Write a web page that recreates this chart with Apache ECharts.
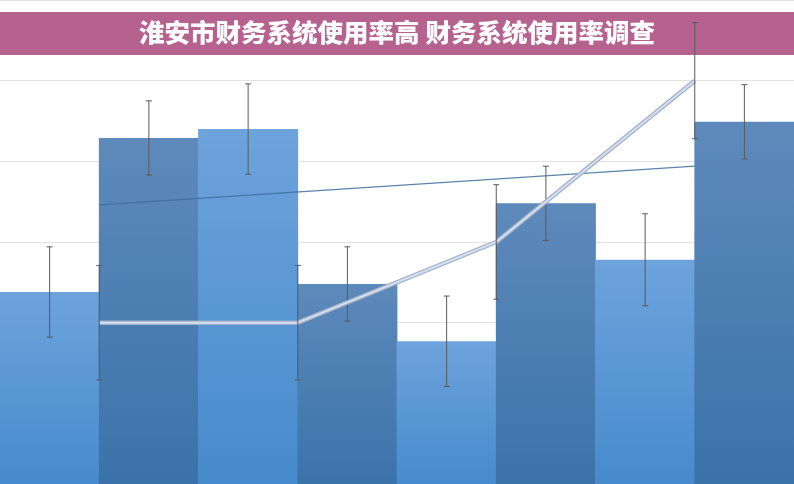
<!DOCTYPE html>
<html><head><meta charset="utf-8">
<script src="https://cdn.jsdelivr.net/npm/echarts@6/dist/echarts.min.js"></script>
<style>html,body{margin:0;padding:0;background:#fff}#c{width:794px;height:484px}</style>
</head><body><div id="c"></div>
<script>
const titleText = '淮安市财务系统使用率高 财务系统使用率调查';
const categories = ['类别1','类别2','类别3','类别4','类别5','类别6','类别7','类别8'];
const barValues = [2.38, 4.29, 4.40, 2.48, 1.77, 3.48, 2.78, 4.49];
const barErrors = [0.56, 0.46, 0.56, 0.46, 0.56, 0.46, 0.57, 0.46];
const linePositions = [1, 3, 5, 7];
const lineValues = [2, 2, 3, 5];
const lineErrors = [0.71, 0.71, 0.71, 0.72];
const trendPositions = [1, 7];
const trendValues = [3.46, 3.94];

const lightGrad = new echarts.graphic.LinearGradient(0,0,0,1,[{offset:0,color:'#6ea3dc'},{offset:1,color:'#468bcd'}]);
const darkGrad = new echarts.graphic.LinearGradient(0,0,0,1,[{offset:0,color:'#5e8abb'},{offset:1,color:'#3a73a9'}]);

const chart = echarts.init(document.getElementById('c'));

function errRender(){
  return function(params, api){
    const x = api.value(0), lo = api.value(1), hi = api.value(2);
    const p1 = api.coord([x, hi]), p2 = api.coord([x, lo]);
    const cap = 3;
    const st = {stroke:'#5a5a5a', lineWidth:1};
    return {type:'group', children:[
      {type:'line', shape:{x1:p1[0],y1:p1[1],x2:p2[0],y2:p2[1]}, style:st},
      {type:'line', shape:{x1:p1[0]-cap,y1:p1[1],x2:p1[0]+cap,y2:p1[1]}, style:st},
      {type:'line', shape:{x1:p2[0]-cap,y1:p2[1],x2:p2[0]+cap,y2:p2[1]}, style:st}
    ]};
  };
}

chart.setOption({
  animation:false,
  grid:{left:0,right:0,top:0,bottom:0},
  xAxis:[
    {type:'category', data:categories, show:false, boundaryGap:true},
    {type:'value', min:0, max:8, show:false}
  ],
  yAxis:{type:'value', min:0, max:6, interval:1, axisLabel:{show:false}, axisLine:{show:false}, axisTick:{show:false},
    splitLine:{lineStyle:{color:'#e2e2e2', width:1}}},
  series:[
    {type:'bar', barWidth:'100.8%', barGap:'0%', z:2,
      data: barValues.map((v,i)=>({value:v, itemStyle:{color: i%2===0 ? lightGrad : darkGrad}}))},
    {type:'line', xAxisIndex:1, z:4, symbol:'none',
      data: trendPositions.map((p,i)=>[p, trendValues[i]]),
      lineStyle:{color:'#3f6f9c', width:1.2, opacity:0.85}},
    {type:'custom', z:5, xAxisIndex:0, renderItem: errRender(),
      data: barValues.map((v,i)=>[i, v-barErrors[i], v+barErrors[i]])},
    {type:'line', xAxisIndex:1, z:6, symbol:'none',
      data: linePositions.map((p,i)=>[p, lineValues[i]]),
      lineStyle:{color:'#a4b1c6', width:4.5}},
    {type:'line', xAxisIndex:1, z:7, symbol:'none',
      data: linePositions.map((p,i)=>[p, lineValues[i]]),
      lineStyle:{color:'#d3e0f2', width:2}},
    {type:'custom', z:8, xAxisIndex:1, renderItem: errRender(),
      data: linePositions.map((p,i)=>[p, lineValues[i]-lineErrors[i], lineValues[i]+lineErrors[i]])}
  ],
  graphic:{elements:[
    {type:'rect', left:0, top:12, z:0, shape:{width:794, height:43}, style:{fill:'#b6628f'}},
    {type:'text', left:'center', top:20, z:1, style:{text:titleText, fill:'#ffffff', font:'900 25.5px "Noto Sans CJK SC"'}}
  ]}
});
</script></body></html>
